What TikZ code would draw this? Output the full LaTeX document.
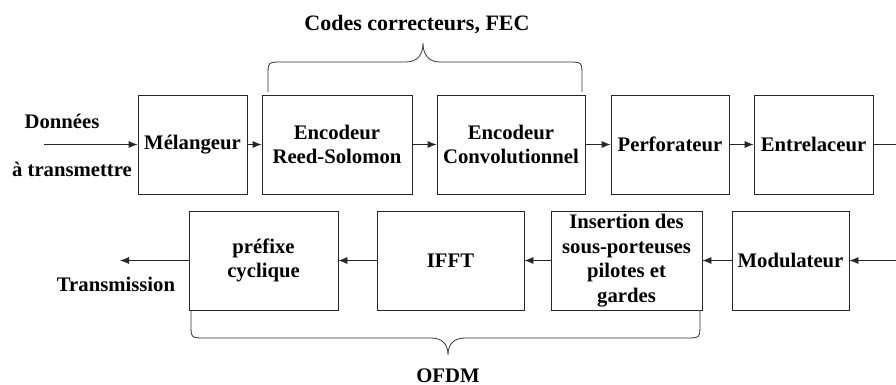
\documentclass[tikz,border=0pt]{standalone}
\usepackage{fontspec}
\setmainfont{Liberation Serif}
\usetikzlibrary{arrows.meta}
\begin{document}
\begin{tikzpicture}[x=1pt,y=-1pt,
  blk/.style={draw=black!85,line width=0.8pt,inner sep=0pt,minimum height=99pt,
    align=center,font=\fontsize{20.7}{24.5}\selectfont\bfseries},
  lbl/.style={inner sep=0pt,align=center,font=\fontsize{20.7}{24.5}\selectfont\bfseries},
  link/.style={draw=black!85,line width=0.8pt,-{Latex[length=9pt,width=7pt]}},
  plain/.style={draw=black!85,line width=0.8pt},
  brace/.style={draw=black!80,line width=0.8pt}]
\useasboundingbox (0,0) rectangle (896,385);

% transmit chain, top row
\node[blk,minimum width=109pt] (mel)  at (192.5,144.5) {Mélangeur};
\node[blk,minimum width=150pt] (rs)   at (337,144.5)   {Encodeur\\Reed-Solomon};
\node[blk,minimum width=148pt] (conv) at (511,144.5)   {Encodeur\\Convolutionnel};
\node[blk,minimum width=118pt] (perf) at (670,144.5)   {Perforateur};
\node[blk,minimum width=119pt] (entr) at (813.5,144.5) {Entrelaceur};

% OFDM chain, bottom row
\node[blk,minimum width=149pt] (pref) at (263.5,260.5) {préfixe\\cyclique};
\node[blk,minimum width=147pt] (ifft) at (450.5,260.5) {IFFT};
\node[blk,minimum width=151pt] (ins)  at (626.5,260.5) {Insertion des\\sous-porteuses\\pilotes et\\gardes};
\node[blk,minimum width=117pt] (mod)  at (790.5,260.5) {Modulateur};

% side labels
\node[lbl] (don)  at (62,121)  {Données};
\node[lbl] (atr)  at (72,169)  {à transmettre};
\node[lbl] (tx)   at (116,284) {Transmission};
\node[lbl,font=\fontsize{22}{26}\selectfont\bfseries] (fec) at (417,25) {Codes correcteurs, FEC};
\node[lbl,anchor=base] (ofdm) at (448,382) {OFDM};

% free ends of the chain
\coordinate (in)   at (44,144.5);
\coordinate (outT) at (896,144.5);
\coordinate (inB)  at (896,260.5);
\coordinate (out)  at (120,260.5);

% connectors
\draw[link] (in) -- (mel);
\draw[link] (mel) -- (rs);
\draw[link] (rs) -- (conv);
\draw[link] (conv) -- (perf);
\draw[link] (perf) -- (entr);
\draw[plain] (entr) -- (outT);
\draw[link] (inB) -- (mod);
\draw[link] (mod) -- (ins);
\draw[link] (ins) -- (ifft);
\draw[link] (ifft) -- (pref);
\draw[link] (pref) -- (out);

% brace over the FEC blocks
\draw[brace] (268,92) -- (268,76) .. controls (268,62) .. (282,62) -- (406,62)
  .. controls (418,62) and (423,54) .. (423,43)
  .. controls (423,54) and (428,62) .. (440,62) -- (568,62)
  .. controls (582,62) .. (582,76) -- (582,92);

% brace under the OFDM blocks
\draw[brace] (191,310) -- (191,324) .. controls (191,338) .. (205,338) -- (431,338)
  .. controls (443,338) and (448,345) .. (448,355)
  .. controls (448,345) and (453,338) .. (465,338) -- (686,338)
  .. controls (700,338) .. (700,324) -- (700,310);
\end{tikzpicture}
\end{document}
